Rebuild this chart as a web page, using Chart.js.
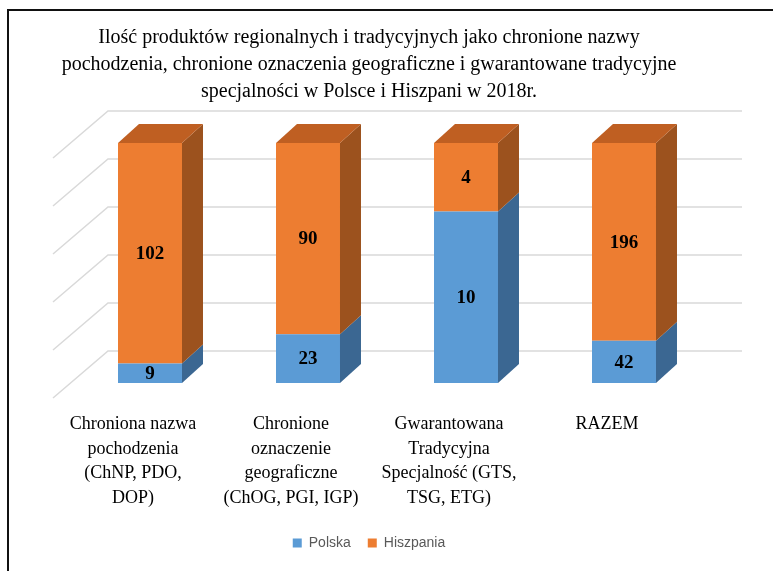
<!DOCTYPE html>
<html lang="pl">
<head>
<meta charset="utf-8">
<title>Produkty regionalne i tradycyjne - Polska i Hiszpania 2018</title>
<script src="https://cdn.jsdelivr.net/npm/chart.js@4.4.1/dist/chart.umd.min.js"></script>
<style>
  html, body { margin: 0; padding: 0; background: #fff; }
  #wrap { position: relative; width: 773px; height: 571px; overflow: hidden; }
  #frame {
    position: absolute; left: 7px; top: 9px; right: -4px; bottom: -4px;
    border-top: 2px solid #111; border-left: 2px solid #111;
    pointer-events: none;
  }
  canvas { position: absolute; left: 0; top: 0; }
</style>
</head>
<body>
<div id="wrap">
  <canvas id="chart" width="773" height="571"></canvas>
  <div id="frame"></div>
</div>
<script>
// Dane z wykresu
const categories = [
    ['Chroniona nazwa', 'pochodzenia', '(ChNP, PDO,', 'DOP)'],
    ['Chronione', 'oznaczenie', 'geograficzne', '(ChOG, PGI, IGP)'],
    ['Gwarantowana', 'Tradycyjna', 'Specjalność (GTS,', 'TSG, ETG)'],
    'RAZEM'
];
const polska = [9, 23, 10, 42];
const hiszpania = [102, 90, 4, 196];
const yTicks = { min: 0, max: 100, step: 20 };   // skala procentowa (100%)

const titleLines = [
    'Ilość produktów regionalnych i tradycyjnych jako chronione nazwy',
    'pochodzenia, chronione oznaczenia geograficzne i gwarantowane tradycyjne',
    'specjalności w Polsce i Hiszpani w 2018r.'
];

// Udział procentowy w każdej kategorii (wykres 100%)
const polskaPct = polska.map((v, i) => v / (v + hiszpania[i]) * 100);
const hiszpaniaPct = hiszpania.map((v, i) => v / (v + polska[i]) * 100);

// Kolory ścian 3D
const faces = [
    { front: '#5b9bd5', side: '#3b6792', top: '#4a80b4' },
    { front: '#ed7d31', side: '#9c521e', top: '#bf5f22' }
];

// Głębokość słupków i ścian
const DX = 21, DY = 19;
const WALL_X = 37, WALL_Y = 32, WALL_RIGHT = 39;
const SIDE_X = 55, SIDE_Y = 47;

const bars3d = {
    id: 'bars3d',
    beforeDatasetsDraw(chart) {
        const ctx = chart.ctx;
        const area = chart.chartArea;
        const yScale = chart.scales.y;
        const x0 = area.left + WALL_X;
        ctx.save();
        ctx.strokeStyle = '#d9d9d9';
        ctx.lineWidth = 1.5;
        yScale.ticks.forEach(t => {
            const yb = yScale.getPixelForValue(t.value) - WALL_Y;
            ctx.beginPath();
            ctx.moveTo(x0 - SIDE_X, yb + SIDE_Y);
            ctx.lineTo(x0, yb);
            ctx.lineTo(area.right + WALL_RIGHT, yb);
            ctx.stroke();
        });
        ctx.restore();
    },
    afterDatasetsDraw(chart) {
        const ctx = chart.ctx;
        const last = chart.data.datasets.length - 1;
        ctx.save();
        chart.data.datasets.forEach((ds, d) => {
            const meta = chart.getDatasetMeta(d);
            meta.data.forEach(el => {
                const p = el.getProps(['x', 'y', 'base', 'width'], true);
                const left = p.x - p.width / 2, right = p.x + p.width / 2;
                const top = Math.min(p.y, p.base), bottom = Math.max(p.y, p.base);
                // bok
                ctx.fillStyle = faces[d].side;
                ctx.beginPath();
                ctx.moveTo(right, top);
                ctx.lineTo(right + DX, top - DY);
                ctx.lineTo(right + DX, bottom - DY);
                ctx.lineTo(right, bottom);
                ctx.closePath();
                ctx.fill();
                // góra (tylko najwyższy segment)
                if (d === last) {
                    ctx.fillStyle = faces[d].top;
                    ctx.beginPath();
                    ctx.moveTo(left, top);
                    ctx.lineTo(left + DX, top - DY);
                    ctx.lineTo(right + DX, top - DY);
                    ctx.lineTo(right, top);
                    ctx.closePath();
                    ctx.fill();
                }
            });
        });
        // etykiety wartości
        ctx.fillStyle = '#000';
        ctx.font = 'bold 19px "Liberation Serif"';
        ctx.textAlign = 'center';
        ctx.textBaseline = 'middle';
        chart.data.datasets.forEach((ds, d) => {
            const meta = chart.getDatasetMeta(d);
            meta.data.forEach((el, i) => {
                const p = el.getProps(['x', 'y', 'base'], true);
                ctx.fillText(String(ds.rawValues[i]), p.x, (p.y + p.base) / 2 + 1);
            });
        });
        ctx.restore();
    }
};

const ctx = document.getElementById('chart').getContext('2d');
new Chart(ctx, {
    type: 'bar',
    data: {
        labels: categories,
        datasets: [
            {
                label: 'Polska',
                data: polskaPct,
                rawValues: polska,
                backgroundColor: faces[0].front,
                borderWidth: 0,
                barPercentage: 0.405,
                categoryPercentage: 1
            },
            {
                label: 'Hiszpania',
                data: hiszpaniaPct,
                rawValues: hiszpania,
                backgroundColor: faces[1].front,
                borderWidth: 0,
                barPercentage: 0.405,
                categoryPercentage: 1
            }
        ]
    },
    options: {
        responsive: false,
        animation: false,
        layout: { padding: { left: 0, right: 35, top: 0, bottom: 11 } },
        plugins: {
            title: {
                display: true,
                text: titleLines,
                color: '#000',
                font: { family: 'Liberation Serif', size: 20, weight: 'normal', lineHeight: 1.35 },
                padding: { top: 24, bottom: 38 }
            },
            legend: {
                position: 'bottom',
                labels: {
                    boxWidth: 9,
                    boxHeight: 9,
                    padding: 17,
                    color: '#595959',
                    font: { family: 'Liberation Sans', size: 14 }
                }
            },
            tooltip: { enabled: false }
        },
        scales: {
            x: {
                stacked: true,
                grid: { display: false, drawTicks: false },
                border: { display: false },
                ticks: {
                    color: '#000',
                    font: { family: 'Liberation Serif', size: 18, lineHeight: 1.37 },
                    padding: 29,
                    labelOffset: -17,
                    autoSkip: false,
                    maxRotation: 0
                },
                afterFit: function(scale) { scale.height = 136; }
            },
            y: {
                stacked: true,
                min: yTicks.min,
                max: yTicks.max,
                ticks: { display: false, stepSize: yTicks.step },
                grid: { display: false },
                border: { display: false },
                afterFit: function(scale) { scale.width = 71; }
            },
            y2: {
                type: 'linear',
                position: 'right',
                ticks: { display: false },
                grid: { display: false },
                border: { display: false },
                afterFit: function(scale) { scale.width = 35; }
            }
        }
    },
    plugins: [bars3d]
});
</script>
</body>
</html>
